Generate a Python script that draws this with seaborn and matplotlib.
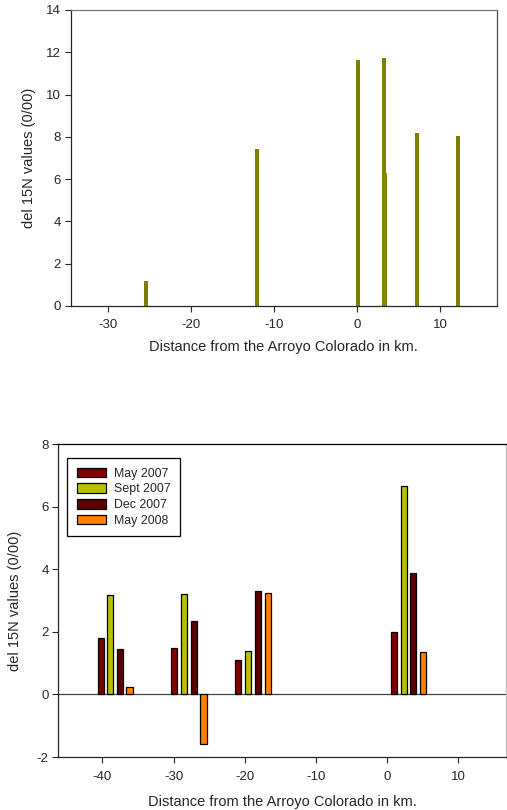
import matplotlib
matplotlib.use("Agg")
import matplotlib.pyplot as plt
import seaborn as sns
import pandas as pd
import numpy as np

# ---- Data: top chart ----
top_x = [-25.4, -12.1, 0.1, 3.2, 7.2, 12.1]
top_y = [1.19, 7.44, 11.65, 11.74, 8.17, 8.02]
top_extra_x = [3.3]
top_extra_y = [6.3]

# ---- Data: bottom chart ----
series = ["May 2007", "Sept 2007", "Dec 2007", "May 2008"]
x_may07 = [-40.2, -29.9, -20.9, 1.0]
y_may07 = [1.82, 1.50, 1.10, 2.00]
x_sep07 = [-38.9, -28.5, -19.5, 2.4]
y_sep07 = [3.18, 3.21, 1.40, 6.66]
x_dec07 = [-37.5, -27.2, -18.2, 3.7]
y_dec07 = [1.45, 2.36, 3.31, 3.89]
x_may08 = [-36.2, -25.8, -16.8, 5.1]
y_may08 = [0.24, -1.57, 3.26, 1.36]

top_yticks = [0, 2, 4, 6, 8, 10, 12, 14]
top_xticks = [-30, -20, -10, 0, 10]
bot_yticks = [-2, 0, 2, 4, 6, 8]
bot_xticks = [-40, -30, -20, -10, 0, 10]

palette = {"May 2007": "#800000", "Sept 2007": "#B8C000",
           "Dec 2007": "#5C0000", "May 2008": "#FF8000"}

sns.set_style("ticks")
plt.rcParams["font.family"] = ["Liberation Sans", "DejaVu Sans"]
plt.rcParams["axes.linewidth"] = 0.9
plt.rcParams["axes.unicode_minus"] = False

W, H = 507, 810
fig = plt.figure(figsize=(W / 100, H / 100), dpi=100)

TICK_FS = 9.5
LABEL_FS = 10.5

# ---------- Top axes ----------
ax1 = fig.add_axes([70.7 / W, 1 - 306 / H, (496.7 - 70.7) / W, (306 - 10) / H])
df_top = pd.DataFrame({"x": top_x, "y": top_y})
sns.barplot(data=df_top, x="x", y="y", native_scale=True, color="#808000",
            saturation=1, linewidth=0, errorbar=None, ax=ax1)
df_extra = pd.DataFrame({"x": top_extra_x, "y": top_extra_y})
sns.barplot(data=df_extra, x="x", y="y", native_scale=True, color="#868600",
            saturation=1, linewidth=0, errorbar=None, ax=ax1)
for p in ax1.patches:
    c = p.get_x() + p.get_width() / 2
    p.set_width(0.5)
    p.set_x(c - 0.25)
ax1.set_xlim(-34.5, 16.8)
ax1.set_ylim(0, 14)
ax1.set_yticks(top_yticks)
ax1.set_xticks(top_xticks)
ax1.set_xlabel("Distance from the Arroyo Colorado in km.", fontsize=LABEL_FS)
ax1.set_ylabel("del 15N values (0/00)", fontsize=LABEL_FS)
ax1.xaxis.set_label_coords(0.5, -0.115)
ax1.yaxis.set_label_coords(-0.0815, 0.5)
ax1.tick_params(labelsize=TICK_FS, length=4, width=0.8, direction="out", pad=3)
ax1.tick_params(axis="x", pad=5)
for s in ["top", "right"]:
    ax1.spines[s].set_visible(True)
ax1.spines["top"].set_color("#777777")
ax1.spines["right"].set_color("#444444")

# ---------- Bottom axes ----------
ax2 = fig.add_axes([58.3 / W, 1 - 757 / H, (506 - 58.3) / W, (757 - 444.3) / H])
rows = []
for name, xs, ys in [("May 2007", x_may07, y_may07), ("Sept 2007", x_sep07, y_sep07),
                     ("Dec 2007", x_dec07, y_dec07), ("May 2008", x_may08, y_may08)]:
    for xv, yv in zip(xs, ys):
        rows.append({"x": xv, "y": yv, "series": name})
df_bot = pd.DataFrame(rows)
sns.barplot(data=df_bot, x="x", y="y", hue="series", hue_order=series,
            palette=palette, native_scale=True, dodge=False, saturation=1,
            edgecolor="black", linewidth=0.9, errorbar=None, ax=ax2)
for p in ax2.patches:
    if p.get_height() == 0 and p.get_width() == 0:
        continue
    c = p.get_x() + p.get_width() / 2
    p.set_width(0.85)
    p.set_x(c - 0.425)
ax2.axhline(0, color="#444444", linewidth=0.9, zorder=0.5)
ax2.set_xlim(-46.2, 16.7)
ax2.set_ylim(-2, 8)
ax2.set_yticks(bot_yticks)
ax2.set_xticks(bot_xticks)
ax2.set_xlabel("Distance from the Arroyo Colorado in km.", fontsize=LABEL_FS)
ax2.set_ylabel("del 15N values (0/00)", fontsize=LABEL_FS)
ax2.xaxis.set_label_coords(0.5, -0.1215)
ax2.yaxis.set_label_coords(-0.081, 0.5)
ax2.tick_params(labelsize=TICK_FS, length=4, width=0.8, direction="out", pad=3)
ax2.tick_params(axis="x", pad=6)
for s in ["top", "right"]:
    ax2.spines[s].set_visible(True)
ax2.spines["top"].set_color("black")
ax2.spines["right"].set_color("#bbbbbb")

handles, labels = ax2.get_legend_handles_labels()
ax2.legend(handles, labels, loc="upper left", bbox_to_anchor=(0.02, 0.955),
           frameon=True, fancybox=False, edgecolor="black", framealpha=1,
           fontsize=8.9, handlelength=2.4, handleheight=0.8, labelspacing=0.3,
           borderpad=0.75, handletextpad=0.6, borderaxespad=0)
ax2.get_legend().get_frame().set_linewidth(0.9)

fig.savefig("out.png", dpi=100)
